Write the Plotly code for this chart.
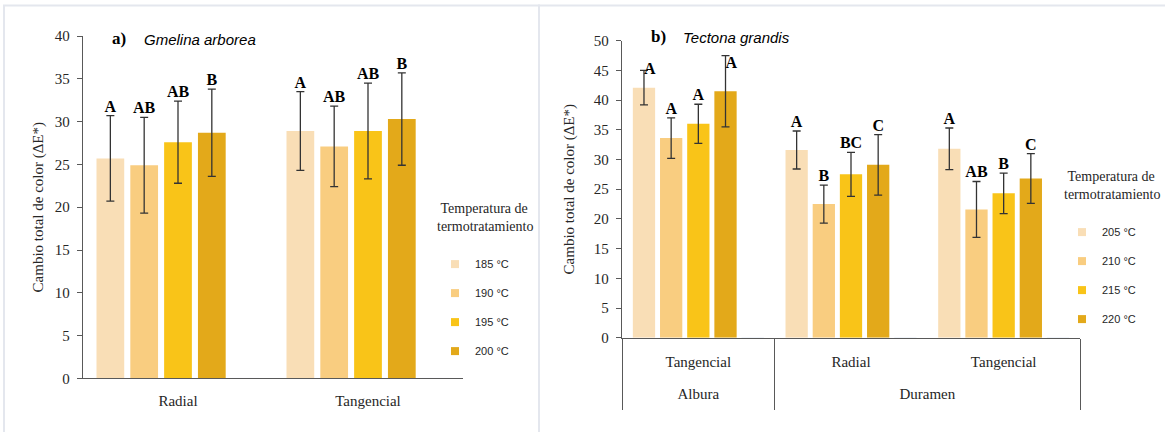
import plotly.graph_objects as go

# ---------------- data ----------------
# Panel a) Gmelina arborea
cats_a = ["Radial", "Tangencial"]
temps_a = ["185 °C", "190 °C", "195 °C", "200 °C"]
mean_a_185 = [25.7, 28.9]
mean_a_190 = [24.9, 27.1]
mean_a_195 = [27.6, 28.9]
mean_a_200 = [28.7, 30.3]
err_a_185 = [5.0, 4.6]
err_a_190 = [5.6, 4.7]
err_a_195 = [4.8, 5.6]
err_a_200 = [5.1, 5.4]
let_a_185 = ["A", "A"]
let_a_190 = ["AB", "AB"]
let_a_195 = ["AB", "AB"]
let_a_200 = ["B", "B"]

# Panel b) Tectona grandis
outer_b = ["Albura", "Duramen", "Duramen"]
inner_b = ["Tangencial", "Radial", "Tangencial"]
temps_b = ["205 °C", "210 °C", "215 °C", "220 °C"]
mean_b_205 = [42.1, 31.6, 31.8]
mean_b_210 = [33.6, 22.5, 21.6]
mean_b_215 = [36.0, 27.5, 24.3]
mean_b_220 = [41.5, 29.1, 26.8]
err_b_205 = [2.9, 3.2, 3.5]
err_b_210 = [3.4, 3.2, 4.7]
err_b_215 = [3.3, 3.7, 3.4]
err_b_220 = [6.0, 5.1, 4.2]
let_b_205 = ["A", "A", "A"]
let_b_210 = ["A", "B", "AB"]
let_b_215 = ["A", "BC", "B"]
let_b_220 = ["A", "C", "C"]

# ---------------- style ----------------
colors = ["#F9DEB6", "#F9CD80", "#F9C418", "#E3A91A"]
SERIF = "Liberation Serif, Times New Roman, serif"
SANS = "Liberation Sans Narrow, Arial Narrow, Liberation Sans, sans-serif"
TXT = "#262626"
AXC = "#595959"
W, H = 1165, 432

means_a = [mean_a_185, mean_a_190, mean_a_195, mean_a_200]
errs_a = [err_a_185, err_a_190, err_a_195, err_a_200]
lets_a = [let_a_185, let_a_190, let_a_195, let_a_200]
means_b = [mean_b_205, mean_b_210, mean_b_215, mean_b_220]
errs_b = [err_b_205, err_b_210, err_b_215, err_b_220]
lets_b = [let_b_205, let_b_210, let_b_215, let_b_220]

# numeric positions for the two-level axis of panel b
nb = len(inner_b)
xpos_b = list(range(nb))
outer_names, outer_centers = [], []
bounds = [-0.5]
for k, name in enumerate(outer_b):
    if k > 0 and name != outer_b[k - 1]:
        bounds.append(k - 0.5)
    if name not in outer_names:
        outer_names.append(name)
for name in outer_names:
    idx = [k for k, o in enumerate(outer_b) if o == name]
    outer_centers.append(sum(idx) / len(idx))
bounds.append(nb - 0.5)

fig = go.Figure()

def add_panel(xvals, means, errs, lets, temps, xa, ya, leg, textpos):
    n = len(means[0])
    for i in range(4):
        fig.add_trace(go.Bar(
            x=xvals, y=means[i], name=temps[i], marker=dict(color=colors[i], line=dict(width=0)),
            error_y=dict(type="data", array=errs[i], visible=True, color="#333333",
                         thickness=1.3, width=4),
            xaxis=xa, yaxis=ya, offsetgroup=str(i), showlegend=False, hoverinfo="skip"))
    # invisible fifth slot (as in the original layout)
    fig.add_trace(go.Bar(x=xvals, y=[0] * n, marker=dict(color="rgba(0,0,0,0)"),
                         xaxis=xa, yaxis=ya, offsetgroup="4", showlegend=False,
                         hoverinfo="skip"))
    for i in range(4):
        tops = [m + e for m, e in zip(means[i], errs[i])]
        fig.add_trace(go.Scatter(
            x=xvals, y=tops, mode="text", text=lets[i],
            textposition=textpos[i],
            textfont=dict(family=SERIF, size=16, color="#000000", weight="bold"),
            xaxis=xa, yaxis=ya, offsetgroup=str(i), showlegend=False, hoverinfo="skip",
            cliponaxis=False))
    fig.add_trace(go.Scatter(x=xvals, y=[0] * n, mode="text", text=[""] * n,
                             xaxis=xa, yaxis=ya, offsetgroup="4", showlegend=False,
                             hoverinfo="skip"))
    # legend entries (small square keys)
    for i in range(4):
        fig.add_trace(go.Scatter(
            x=[None], y=[None], mode="markers", name=temps[i],
            marker=dict(symbol="square", size=8, color=colors[i]),
            xaxis=xa, yaxis=ya, legend=leg, legendgroup=leg + temps[i],
            showlegend=True, hoverinfo="skip"))

tp_a = [["top center"] * 2 for _ in range(4)]
tp_b = [["middle right", "top center", "top center"],
        ["top center"] * 3,
        ["top center"] * 3,
        ["bottom right", "top center", "top center"]]

add_panel(cats_a, means_a, errs_a, lets_a, temps_a, "x", "y", "legend", tp_a)
add_panel(xpos_b, means_b, errs_b, lets_b, temps_b, "x2", "y2", "legend2", tp_b)

# empty traces so that the outer-label axis and the divider axis are drawn
for xa in ["x3", "x4"]:
    fig.add_trace(go.Scatter(x=[None], y=[None], mode="markers", xaxis=xa, yaxis="y2",
                             showlegend=False, hoverinfo="skip"))

base = dict(automargin=False, showgrid=False, zeroline=False,
            tickfont=dict(family=SERIF, size=15, color=TXT))
line = dict(showline=True, linecolor=AXC, linewidth=1.3)

ytitle = dict(text="Cambio total de color (ΔE*)", font=dict(family=SERIF, size=15, color=TXT))
leg_title = "&nbsp;Temperatura de<br>termotratamiento<br><span style='font-size:9px'> </span>"
ytick = dict(ticks="outside", ticklen=5, tickcolor=AXC, tickwidth=1.3, ticklabelstandoff=4)

dom_b = [622 / W, 1080 / W]
rng_b = [-0.5, nb - 0.5]

fig.update_layout(
    width=W, height=H, margin=dict(l=0, r=0, t=0, b=0, autoexpand=False),
    paper_bgcolor="white", plot_bgcolor="white",
    barmode="group", bargap=0.11, bargroupgap=0.18,
    scattermode="group", scattergap=0.11,
    xaxis=dict(domain=[83 / W, 463 / W], anchor="y", ticks="", ticklabelstandoff=8,
               **base, **line),
    yaxis=dict(domain=[1 - 378.4 / H, 1 - 36 / H], anchor="x", range=[0, 40], dtick=5,
               title=dict(ytitle, standoff=7), **ytick, **base, **line),
    xaxis2=dict(domain=dom_b, anchor="y2", range=rng_b, tickmode="array",
                tickvals=xpos_b, ticktext=inner_b, ticks="", ticklabelstandoff=10,
                **base, **line),
    xaxis3=dict(domain=dom_b, anchor="y2", overlaying="x2", range=rng_b, tickmode="array",
                tickvals=outer_centers, ticktext=outer_names, ticks="",
                ticklabelstandoff=45, showline=False, **base),
    xaxis4=dict(domain=dom_b, anchor="y2", overlaying="x2", range=rng_b, tickmode="array",
                tickvals=bounds, ticks="outside", ticklen=71, tickwidth=1.3, tickcolor=AXC,
                showticklabels=False, showline=False, **base),
    yaxis2=dict(domain=[1 - 337.7 / H, 1 - 40.7 / H], anchor="x2", range=[0, 50], dtick=5,
                title=dict(ytitle, standoff=15), **ytick, **base, **line),
    legend=dict(x=435 / W, y=1 - 195 / H, xanchor="left", yanchor="top",
                title=dict(text=leg_title, side="top",
                           font=dict(family=SERIF, size=14, color=TXT)),
                font=dict(family=SANS, size=11, color=TXT), tracegroupgap=10,
                itemwidth=30, bgcolor="rgba(0,0,0,0)"),
    legend2=dict(x=1062 / W, y=1 - 163 / H, xanchor="left", yanchor="top",
                 title=dict(text=leg_title, side="top",
                            font=dict(family=SERIF, size=14, color=TXT)),
                 font=dict(family=SANS, size=11, color=TXT), tracegroupgap=10,
                 itemwidth=30, bgcolor="rgba(0,0,0,0)"),
    showlegend=True,
)

# panel titles
fig.add_annotation(x=110 / W, y=1 - 38 / H, xref="paper", yref="paper", xanchor="left",
                   yanchor="middle", text="<b>a)</b>", showarrow=False,
                   font=dict(family=SERIF, size=17, color="#000"))
fig.add_annotation(x=142 / W, y=1 - 40 / H, xref="paper", yref="paper", xanchor="left",
                   yanchor="middle", text="<i>Gmelina arborea</i>", showarrow=False,
                   font=dict(family=SANS, size=15, color="#000"))
fig.add_annotation(x=649 / W, y=1 - 36 / H, xref="paper", yref="paper", xanchor="left",
                   yanchor="middle", text="<b>b)</b>", showarrow=False,
                   font=dict(family=SERIF, size=17, color="#000"))
fig.add_annotation(x=681 / W, y=1 - 37 / H, xref="paper", yref="paper", xanchor="left",
                   yanchor="middle", text="<i>Tectona grandis</i>", showarrow=False,
                   font=dict(family=SANS, size=15, color="#000"))

# panel frames
frame = dict(color="#E4E7EE", width=2)
fig.add_shape(type="rect", xref="paper", yref="paper", x0=4 / W, x1=539 / W,
              y0=-0.01, y1=1 - 5.5 / H, line=frame, layer="below")
fig.add_shape(type="rect", xref="paper", yref="paper", x0=539 / W, x1=1.01,
              y0=-0.01, y1=1 - 5.5 / H, line=frame, layer="below")

fig.write_html("out.html")
